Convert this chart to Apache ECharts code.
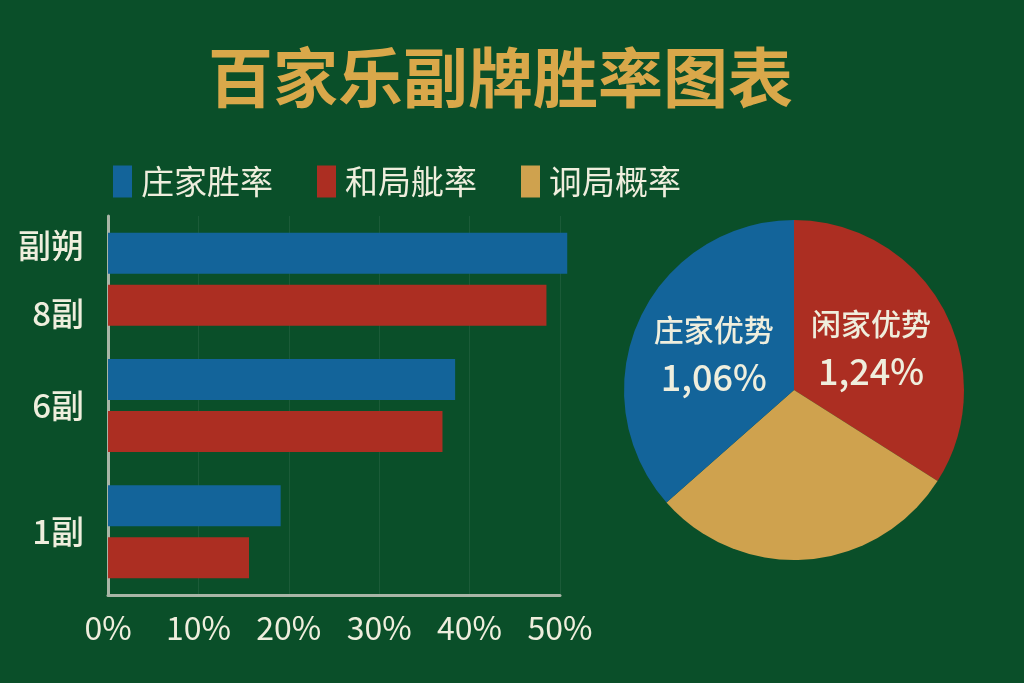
<!DOCTYPE html>
<html>
<head>
<meta charset="utf-8">
<script src="https://cdn.jsdelivr.net/npm/echarts@6/dist/echarts.min.js"></script>
<style>html,body{margin:0;padding:0;background:#0a4f29;}#c{width:1024px;height:683px;}</style>
</head>
<body>
<div id="c"></div>
<script>
var titleText = '百家乐副牌胜率图表';
var categories = ['副朔\n8副', '6副', '1副'];
var seriesNames = ['庄家胜率', '和局舭率', '诇局概率'];
var bankerWin = [50.8, 38.4, 19.1];
var tieRate = [48.5, 37.0, 15.6];
var thirdRate = [];
var xTicks = [0, 10, 20, 30, 40, 50];
var pieNames = ['闲家优势', '其他', '庄家优势'];
var pieValues = [34.0, 29.5, 36.5];
var pieLabels = ['1,24%', '', '1,06%'];

var BLUE = '#13649a', RED = '#ac2e22', GOLD = '#cfa24e', CREAM = '#efeedd';
var FONT = '"Noto Sans CJK SC", "Noto Sans", sans-serif';

var chart = echarts.init(document.getElementById('c'));
chart.setOption({
  backgroundColor: '#0a4f29',
  animation: false,
  textStyle: { fontFamily: FONT },
  title: {
    text: titleText, left: 203, top: 40,
    textStyle: { color: '#d9a84a', fontSize: 65, fontWeight: 'bold', fontFamily: FONT }
  },
  legend: {
    data: seriesNames, left: 108, top: 160, icon: 'rect',
    itemWidth: 19, itemHeight: 32, itemGap: 44, selectedMode: false,
    textStyle: { color: CREAM, fontSize: 33, fontFamily: FONT, padding: [0, 0, 0, 4] }
  },
  grid: { left: 108, right: 464, top: 216, bottom: 88, containLabel: false },
  xAxis: {
    type: 'value', min: xTicks[0], max: xTicks[xTicks.length - 1], interval: 10,
    axisLine: { show: true, lineStyle: { color: '#a9b5a6', width: 3 } },
    axisTick: { show: false },
    splitLine: { show: true, lineStyle: { color: 'rgba(255,255,255,0.07)', width: 1 } },
    axisLabel: { color: CREAM, fontSize: 32, margin: 17, formatter: '{value}%', fontFamily: FONT }
  },
  yAxis: {
    type: 'category', data: categories, inverse: true,
    axisLine: { show: true, lineStyle: { color: '#a9b5a6', width: 3 } },
    axisTick: { show: false },
    axisLabel: { color: CREAM, fontSize: 33, fontWeight: 500, margin: 24, lineHeight: 68, fontFamily: FONT }
  },
  series: [
    { name: seriesNames[0], type: 'bar', data: bankerWin, barWidth: 41, barGap: '27%', clip: false, itemStyle: { color: BLUE } },
    { name: seriesNames[1], type: 'bar', data: tieRate, barWidth: 41, barGap: '27%', clip: false, itemStyle: { color: RED } },
    { name: seriesNames[2], type: 'line', data: thirdRate, symbol: 'none', itemStyle: { color: GOLD }, lineStyle: { color: GOLD } },
    {
      type: 'pie', center: [794, 390], radius: [0, 170], startAngle: 90, clockwise: true,
      silent: true, legendHoverLink: false,
      data: pieNames.map(function (n, i) {
        return {
          name: n, value: pieValues[i],
          itemStyle: { color: [RED, GOLD, BLUE][i] },
          label: { show: pieLabels[i] !== '' }
        };
      }),
      label: {
        position: 'inside',
        formatter: function (p) { return '{a|' + p.name + '}\n{b|' + pieLabels[p.dataIndex] + '}'; },
        rich: {
          a: { color: CREAM, fontSize: 30, fontWeight: 500, lineHeight: 48, fontFamily: FONT },
          b: { color: CREAM, fontSize: 36, fontWeight: 500, lineHeight: 48, fontFamily: FONT }
        }
      },
      labelLine: { show: false }
    }
  ]
});
</script>
</body>
</html>
